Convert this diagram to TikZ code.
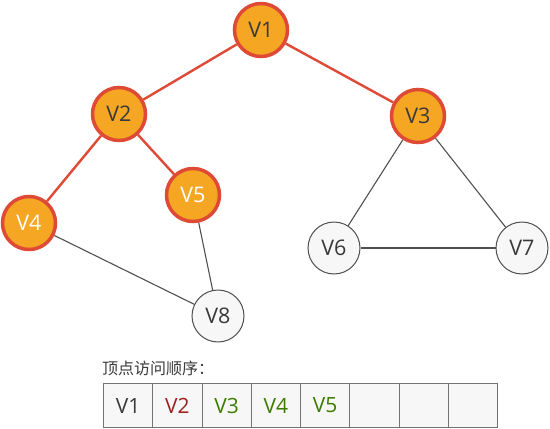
\documentclass[tikz,border=0pt]{standalone}
\usepackage{fontspec}
\setmainfont{Open Sans}
\newfontfamily\cjk{Noto Sans CJK SC}
\usetikzlibrary{backgrounds}

\definecolor{vorange}{HTML}{F5A623}
\definecolor{vred}{HTML}{DE4A36}
\definecolor{vgray}{HTML}{505050}
\definecolor{vlight}{HTML}{F7F7F7}
\definecolor{vdark}{HTML}{3A3A3A}
\definecolor{vdarkred}{HTML}{9E1F1F}
\definecolor{vgreen}{HTML}{3B7D00}

\tikzset{
  visited/.style={circle,draw=vred,line width=3.5pt,fill=vorange,
    minimum size=53pt,inner sep=0pt,text=vdark,
    font=\fontsize{21.5}{21.5}\selectfont},
  fresh/.style={circle,draw=vgray,line width=1pt,fill=vlight,
    minimum size=52pt,inner sep=0pt,text=vdark,
    font=\fontsize{21.5}{21.5}\selectfont},
  treeedge/.style={vred,line width=2.4pt},
  plainedge/.style={vgray,line width=1.1pt},
  cell/.style={draw=vgray!80,line width=1pt,fill=vlight,anchor=north west,
    minimum width=49.25pt,minimum height=44pt,inner sep=0pt,
    font=\fontsize{21}{21}\selectfont}
}

\begin{document}
\begin{tikzpicture}[x=1pt,y=-1pt]
\useasboundingbox (0,0) rectangle (550,429);

% вершины
\node[visited] (v1) at (261,30) {V1};
\node[visited] (v2) at (119,114) {V2};
\node[visited] (v3) at (418,116) {V3};
\node[visited,text=white] (v4) at (29,223) {V4};
\node[visited,text=white] (v5) at (193,195) {V5};
\node[fresh] (v6) at (334,248) {V6};
\node[fresh] (v7) at (522,248) {V7};
\node[fresh] (v8) at (218,316) {V8};

% рёбра
\begin{pgfonlayer}{background}
\foreach \a/\b in {v1/v2,v1/v3,v2/v4,v2/v5}
  \draw[treeedge] (\a) -- (\b);
\foreach \a/\b in {v3/v6,v3/v7,v6/v7,v4/v8,v5/v8}
  \draw[plainedge] (\a) -- (\b);
\end{pgfonlayer}

% порядок обхода
\node[anchor=west,inner sep=0pt,text=vdark,font=\cjk\fontsize{16}{16}\selectfont]
  (title) at (102,368) {顶点访问顺序：};
\foreach \i/\t/\c in {1/V1/vdark,2/V2/vdarkred,3/V3/vgreen,4/V4/vgreen,
                      5/V5/vgreen,6/ /vdark,7/ /vdark,8/ /vdark}
  \node[cell,text=\c] (c\i) at ({103+(\i-1)*49.25},383) {\t};

\end{tikzpicture}
\end{document}
